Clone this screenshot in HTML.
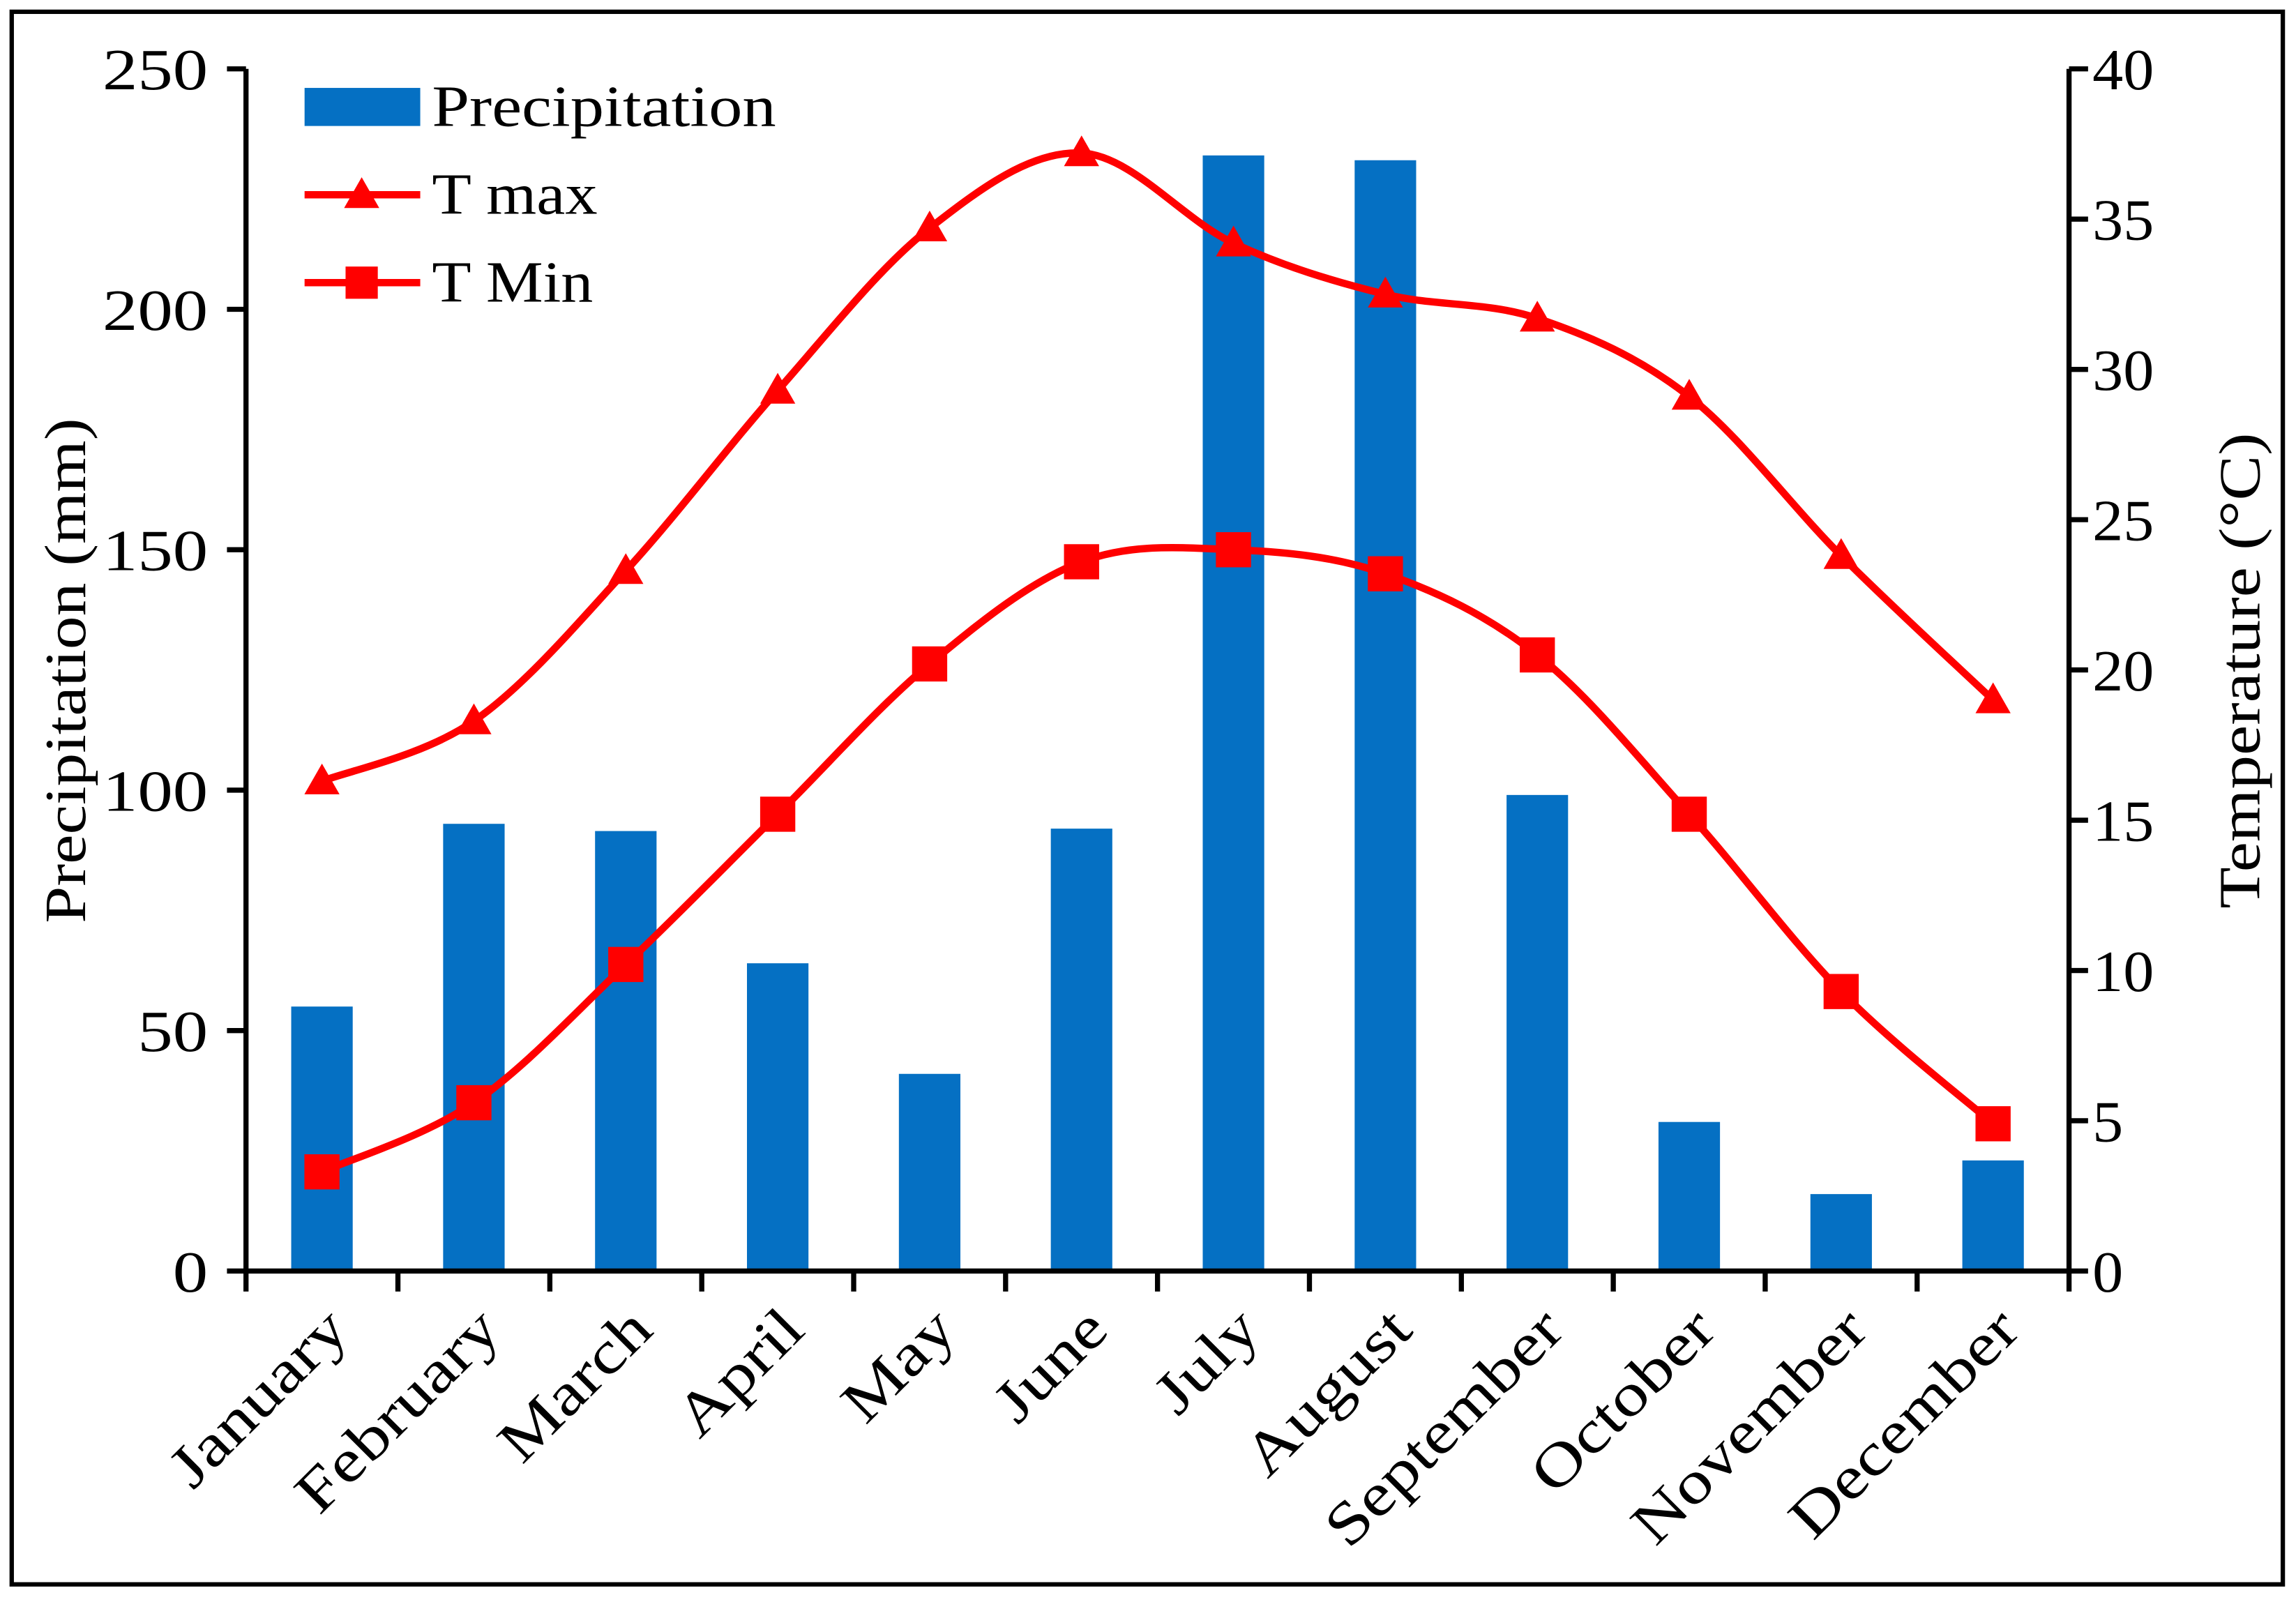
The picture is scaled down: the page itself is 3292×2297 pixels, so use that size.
<!DOCTYPE html>
<html><head><meta charset="utf-8"><style>
html,body{margin:0;padding:0;background:#fff}
svg{display:block}
text{font-family:"Liberation Serif",serif;fill:#000}
</style></head><body>
<svg id="chart" width="3292" height="2297" viewBox="0 0 1568 1094" xmlns="http://www.w3.org/2000/svg">
<rect x="8" y="8" width="1551" height="1074" fill="#fff" stroke="#000" stroke-width="3"/>
<g id="bars"></g>
<g id="lines"></g>
<g id="axes"></g>
<text transform="translate(58,458) rotate(-90)" text-anchor="middle" font-size="40" textLength="345" lengthAdjust="spacingAndGlyphs">Precipitation (mm)</text>
<text transform="translate(1543,458) rotate(-90)" text-anchor="middle" font-size="40" textLength="325" lengthAdjust="spacingAndGlyphs">Temperature (°C)</text>
<g>
<rect x="208" y="60" width="79" height="26" fill="#0570C3"/>
<text x="295" y="86" font-size="40" textLength="235" lengthAdjust="spacingAndGlyphs">Precipitation</text>
<line x1="208" y1="133" x2="287" y2="133" stroke="#f00" stroke-width="5"/>
<polygon points="247,121 259,142 235,142" fill="#f00"/>
<text x="295" y="146" font-size="40" textLength="113" lengthAdjust="spacingAndGlyphs">T max</text>
<line x1="208" y1="193" x2="287" y2="193" stroke="#f00" stroke-width="5"/>
<rect x="236" y="182" width="22" height="22" fill="#f00"/>
<text x="295" y="206" font-size="40" textLength="110" lengthAdjust="spacingAndGlyphs">T Min</text>
</g>
</svg>
<script>
const months=["January","February","March","April","May","June","July","August","September","October","November","December"];
const precip=[55,93,91.5,64,41,92,232,231,99,31,16,23];
const tmax=[16.3,18.3,23.3,29.3,34.7,37.2,34.2,32.5,31.7,29.1,23.8,19.0];
const tmin=[3.3,5.6,10.2,15.2,20.2,23.6,24.0,23.2,20.5,15.2,9.3,4.9];
const leftTicks=[0,50,100,150,200,250];
const rightTicks=[0,5,10,15,20,25,30,35,40];
const NS="http://www.w3.org/2000/svg";
const X0=168,X1=1413,Y0=868,Y1=47;
const bw=(X1-X0)/months.length;
const xc=i=>X0+bw*(i+0.5);
const yL=v=>Y0-(v/250)*(Y0-Y1);
const yR=v=>Y0-(v/40)*(Y0-Y1);
function mk(tag,attrs,parent){const e=document.createElementNS(NS,tag);for(const k in attrs)e.setAttribute(k,attrs[k]);parent.appendChild(e);return e;}
const bars=document.getElementById('bars'),lines=document.getElementById('lines'),axes=document.getElementById('axes');
precip.forEach((v,i)=>{
  const r=mk('rect',{x:xc(i)-21,y:yL(v),width:42,height:Y0-yL(v),fill:'#0570C3'},bars);
  
  
});
function smooth(pts){
  let d='M'+pts[0][0]+','+pts[0][1];
  for(let i=0;i<pts.length-1;i++){
    const p0=pts[Math.max(0,i-1)],p1=pts[i],p2=pts[i+1],p3=pts[Math.min(pts.length-1,i+2)];
    const t=6;
    d+=' C'+(p1[0]+(p2[0]-p0[0])/t)+','+(p1[1]+(p2[1]-p0[1])/t)+' '+(p2[0]-(p3[0]-p1[0])/t)+','+(p2[1]-(p3[1]-p1[1])/t)+' '+p2[0]+','+p2[1];
  }
  return d;
}
const pmax=tmax.map((v,i)=>[xc(i),yR(v)]);
const pmin=tmin.map((v,i)=>[xc(i),yR(v)]);
const l1=mk('path',{d:smooth(pmax),fill:'none',stroke:'#f00','stroke-width':5},lines);


const l2=mk('path',{d:smooth(pmin),fill:'none',stroke:'#f00','stroke-width':5},lines);


pmax.forEach((p,i)=>{
  const m=mk('polygon',{points:(p[0])+','+(p[1]-12)+' '+(p[0]+12)+','+(p[1]+9)+' '+(p[0]-12)+','+(p[1]+9),fill:'#f00'},lines);
  
  
});
pmin.forEach((p,i)=>{
  const m=mk('rect',{x:p[0]-12,y:p[1]-12,width:24,height:24,fill:'#f00'},lines);
  
  
});
const ax=mk('path',{d:'M'+X0+','+Y1+' V'+Y0+' H'+X1+' V'+Y1,fill:'none',stroke:'#000','stroke-width':3.5},axes);


leftTicks.forEach(v=>{
  const y=yL(v);
  const t=mk('line',{x1:X0-13,y1:y,x2:X0,y2:y,stroke:'#000','stroke-width':3.5},axes);
  
  
  const l=mk('text',{x:X0-26,y:y+14,'text-anchor':'end','font-size':40,textLength:String(v).length*24,lengthAdjust:'spacingAndGlyphs'},axes);
  l.textContent=v;
  
  
});
rightTicks.forEach(v=>{
  const y=yR(v);
  const t=mk('line',{x1:X1,y1:y,x2:X1+13,y2:y,stroke:'#000','stroke-width':3.5},axes);
  
  
  const l=mk('text',{x:X1+16,y:y+14,'text-anchor':'start','font-size':40,textLength:String(v).length*21,lengthAdjust:'spacingAndGlyphs'},axes);
  l.textContent=v;
  
  
});
for(let i=0;i<=months.length;i++){
  const x=X0+bw*i;
  const t=mk('line',{x1:x,y1:Y0,x2:x,y2:Y0+14,stroke:'#000','stroke-width':3.5},axes);
  
  
}
months.forEach((m,i)=>{
  const x=xc(i)+20,y=Y0+42;
  const l=mk('text',{x:x,y:y,'text-anchor':'end','font-size':41,transform:'rotate(-45 '+x+' '+y+')'},axes);
  l.textContent=m;
  
  
  const w=l.getComputedTextLength();
  l.setAttribute('textLength',w*1.2);
  l.setAttribute('lengthAdjust','spacingAndGlyphs');
});
</script>
</body></html>
